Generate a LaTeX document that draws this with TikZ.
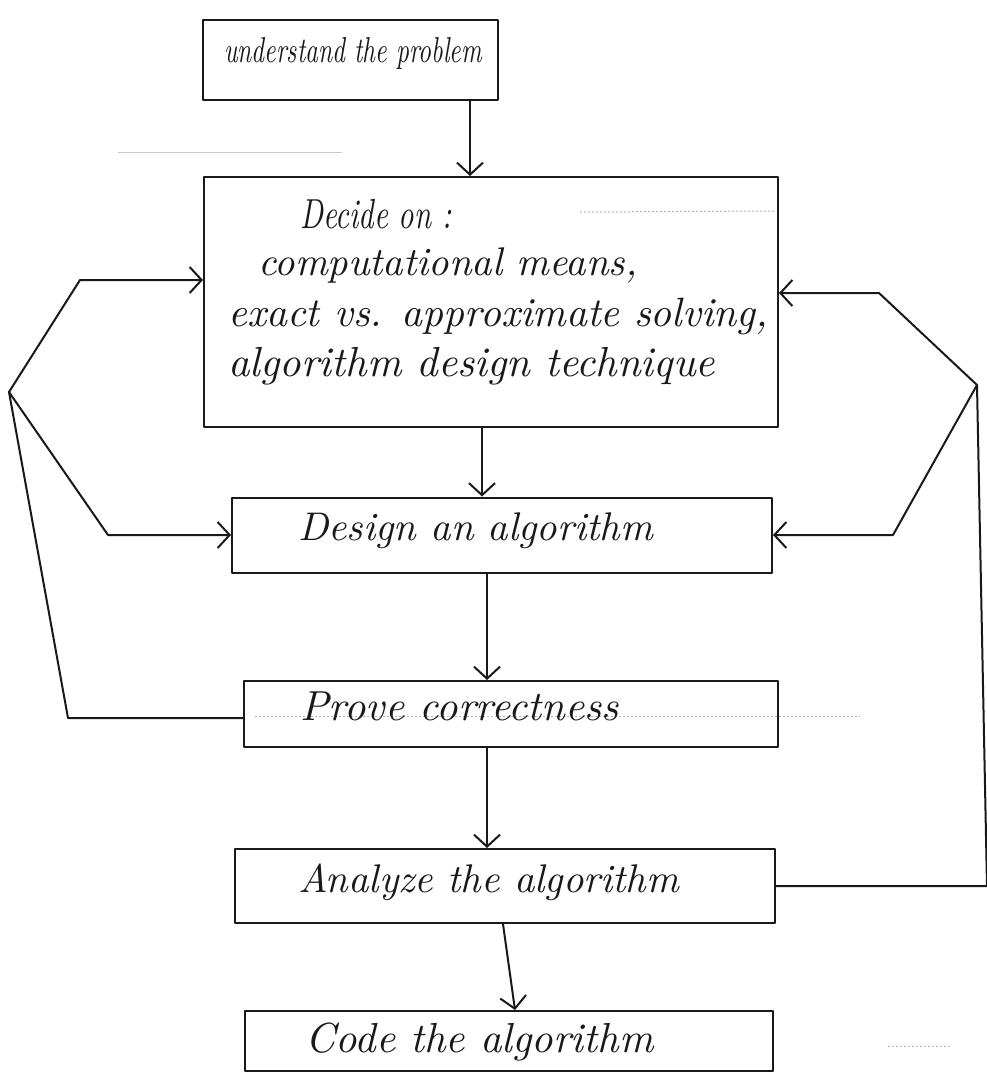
\documentclass[tikz,border=0pt]{standalone}
\usepackage{fontspec}
\setmainfont{lmroman10-regular.otf}[ItalicFont=lmroman10-italic.otf]
\usetikzlibrary{arrows.meta}
\begin{document}
\begin{tikzpicture}[x=1pt,y=-1pt,
  ink/.style={draw=black!90, line width=2pt, line join=round, line cap=round},
  arr/.style={ink, -{Straight Barb[length=12pt,width=26pt,line width=2pt]}},
  stepbox/.style={ink, rectangle, inner sep=0pt},
  hand/.style={font=\fontsize{40}{48}\selectfont\itshape, inner sep=0pt, anchor=mid west, text=black!90},
  faint/.style={draw=black!22, line width=1pt},
  dots/.style={draw=black!30, line width=1pt, dash pattern=on 2pt off 2pt}]

% paper
\fill[white] (0,0) rectangle (987,1072);
\useasboundingbox (0,0) rectangle (987,1072);

% ruling marks showing through the sheet
\draw[faint] (118,152) -- (342,152);
\draw[dots] (580,212) -- (775,211);
\draw[dots] (255,716) -- (860,716);
\draw[dots] (888,1046) -- (950,1046);

% boxes of the flow
\node[stepbox, minimum width=295pt, minimum height=80pt] (b1) at (350.5,60) {};
\node[stepbox, minimum width=574pt, minimum height=250pt] (b2) at (491,302) {};
\node[stepbox, minimum width=540pt, minimum height=75pt] (b3) at (502,535) {};
\node[stepbox, minimum width=534pt, minimum height=66pt] (b4) at (511,714) {};
\node[stepbox, minimum width=540pt, minimum height=74pt] (b5) at (505,886) {};
\node[stepbox, minimum width=528pt, minimum height=60pt] (b6) at (509,1041) {};

% texts
\node[hand, font=\fontsize{36}{42}\selectfont\itshape] (t1) at (224,60) {\scalebox{0.7}[1]{understand the problem}};
\node[hand, font=\fontsize{42}{48}\selectfont\itshape] (d1) at (300,226) {\scalebox{0.72}[1]{Decide on :}};
\node[hand] (d2) at (258,273) {computational means,};
\node[hand, font=\fontsize{41}{48}\selectfont\itshape] (d3) at (228,324) {exact vs. approximate solving,};
\node[hand, font=\fontsize{42}{48}\selectfont\itshape] (d4) at (228,374) {algorithm design technique};
\node[hand] (t3) at (298,538) {Design an algorithm};
\node[hand, font=\fontsize{42}{48}\selectfont\itshape] (t4) at (300,718) {Prove correctness};
\node[hand] (t5) at (298,890) {Analyze the algorithm};
\node[hand, font=\fontsize{42}{48}\selectfont\itshape] (t6) at (305,1050) {Code the algorithm};

% main downward flow
\coordinate (c12) at (470,0);
\coordinate (c23) at (482,0);
\coordinate (c34) at (487,0);
\coordinate (c56a) at (503,0);
\coordinate (c56b) at (515,0);
\draw[arr] (b1.south -| c12) -- (b2.north -| c12);
\draw[arr] (b2.south -| c23) -- (b3.north -| c23);
\draw[arr] (b3.south -| c34) -- (b4.north -| c34);
\draw[arr] (b4.south -| c34) -- (b5.north -| c34);
\draw[arr] (b5.south -| c56a) -- (b6.north -| c56b);

% left feedback loop from "Prove correctness"
\coordinate (lj) at (9,392);
\coordinate (la) at (80,280);
\coordinate (lb) at (108,535);
\coordinate (lc) at (68,718);
\draw[ink] (lc -| b4.west) -- (lc) -- (lj);
\draw[arr] (lj) -- (la) -- (la -| b2.west);
\draw[arr] (lj) -- (lb) -- (lb -| b3.west);

% right feedback loop from "Analyze the algorithm"
\coordinate (rj) at (977,385);
\coordinate (ra) at (879,293);
\coordinate (rb) at (893,535);
\coordinate (rc) at (987,886);
\draw[ink] (rc -| b5.east) -- (rc) -- (rj);
\draw[arr] (rj) -- (ra) -- (ra -| b2.east);
\draw[arr] (rj) -- (rb) -- (rb -| b3.east);
\end{tikzpicture}
\end{document}
